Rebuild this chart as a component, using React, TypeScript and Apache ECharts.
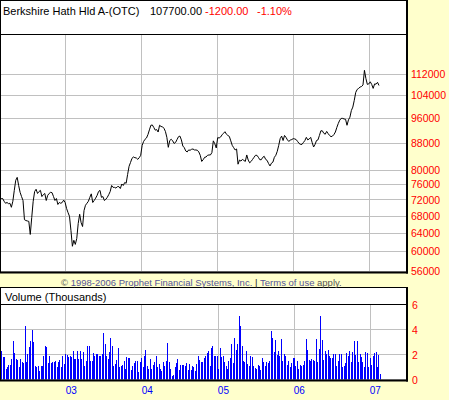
import { useEffect, useRef } from "react";
import * as echarts from "echarts";

// Weekly closes (USD) and weekly volume (thousands of shares), one entry per week
const FIRST_WEEK = Date.UTC(2002, 1, 25);
const WEEK_MS = 7 * 24 * 3600 * 1000;

const CLOSE = [
  72300, 72300, 71600, 71100, 71300, 71000, 71100, 70100, 71600, 74400,
  77100, 77900, 75700, 73900, 72800, 71800, 67100, 66900, 66800, 66700,
  63700, 67600, 71600, 74100, 74700, 73600, 74100, 74400, 72800, 73300,
  73600, 71800, 73100, 73600, 73900, 73800, 72800, 71800, 72300, 70800,
  71300, 71100, 71300, 71900, 71300, 69800, 68800, 67900, 64600, 61100,
  62400, 61500, 62800, 66200, 68400, 66400, 65500, 69300, 70600, 71100,
  71600, 72600, 73500, 71300, 71800, 72400, 73100, 74100, 74400, 72600,
  72800, 71800, 72100, 72600, 73300, 74100, 75700, 75200, 75200, 75000,
  75400, 75400, 74900, 76100, 75700, 76500, 76300, 78700, 81000, 82100,
  83300, 83700, 83500, 83400, 83000, 83500, 84200, 87200, 88400, 89100,
  89500, 90600, 92100, 93600, 93700, 92900, 92000, 92200, 91400, 93600,
  93200, 93100, 92600, 91600, 89700, 86600, 88700, 89100, 88600, 87800,
  88100, 89000, 89900, 90100, 88900, 87000, 86500, 85500, 85200, 85800,
  85700, 86000, 86100, 85800, 85800, 85700, 85200, 84200, 82400, 82900,
  83600, 83700, 84200, 84300, 84300, 85000, 88600, 87700, 86400, 89600,
  89500, 89800, 90500, 91000, 91500, 90700, 90300, 90000, 88600, 87200,
  86500, 85800, 86100, 81600, 82800, 82500, 83000, 82700, 82400, 84300,
  82800, 82000, 82400, 83000, 83600, 84200, 84200, 83600, 82900, 82900,
  83600, 83900, 83000, 82700, 81800, 81100, 81900, 82200, 83600, 84200,
  85400, 87200, 89300, 90100, 88700, 90300, 89700, 88900, 88400, 88900,
  89000, 89300, 89200, 89000, 88400, 87800, 87500, 87500, 88100, 88700,
  89700, 88900, 89200, 89700, 88100, 86700, 87500, 88700, 88900, 90300,
  91800, 91800, 91000, 90700, 91600, 90900, 90300, 89900, 90100, 90600,
  91400, 92900, 94200, 95300, 95900, 95900, 95700, 95600, 93600, 95400,
  96300, 98600, 99800, 102200, 105100, 106200, 106600, 107100, 107300, 107900,
  113600, 110400, 108100, 108300, 109100, 108100, 106600, 108300, 108200, 108900,
  107700,
];

const VOLUME_K = [
  2.3, 1.84, 1.8, 0.85, 1.0, 1.2, 1.2, 1.65, 3.1, 2.1,
  1.65, 1.6, 1.0, 1.65, 1.4, 1.3, 4.25, 1.4, 2.05, 2.6,
  3.05, 4.0, 3.0, 1.1, 1.0, 1.1, 0.7, 1.1, 1.1, 1.9,
  2.65, 2.6, 1.3, 1.9, 1.33, 1.4, 1.4, 1.5, 1.0, 1.4,
  1.6, 1.0, 1.9, 1.25, 2.05, 2.0, 1.8, 1.9, 1.8, 2.25,
  1.65, 1.65, 2.25, 1.65, 2.3, 1.65, 2.2, 1.1, 1.5, 2.7,
  2.65, 1.45, 1.45, 2.15, 1.9, 2.05, 2.05, 1.9, 1.85, 2.05,
  3.7, 2.85, 1.9, 1.65, 2.2, 3.3, 2.7, 1.05, 1.25, 1.6,
  2.5, 1.0, 1.05, 1.2, 1.5, 0.85, 1.8, 1.7, 1.7, 0.8,
  1.1, 1.3, 1.5, 1.45, 0.6, 1.4, 1.7, 1.0, 1.9, 2.4,
  1.1, 0.85, 1.65, 0.85, 1.2, 1.4, 1.85, 1.0, 1.25, 0.85,
  0.7, 1.4, 1.1, 1.5, 2.95, 1.4, 0.85, 0.3, 0.4, 1.0,
  1.35, 1.65, 0.8, 1.2, 1.15, 1.15, 1.1, 1.35, 0.8, 1.25,
  0.8, 1.05, 1.0, 0.7, 1.25, 1.9, 1.6, 1.4, 1.4, 1.7,
  1.9, 2.1, 2.3, 1.05, 2.5, 2.7, 1.85, 1.9, 1.9, 0.85,
  2.5, 1.8, 1.9, 1.4, 1.05, 0.85, 1.5, 1.75, 2.85, 1.3,
  3.3, 2.35, 2.85, 5.1, 4.25, 2.65, 1.5, 1.4, 2.3, 1.25,
  1.05, 1.9, 1.8, 1.05, 0.9, 0.85, 1.2, 1.05, 0.75, 1.75,
  1.4, 1.1, 1.4, 1.3, 1.5, 3.9, 3.3, 2.2, 3.15, 2.0,
  2.25, 1.85, 3.25, 1.45, 2.05, 1.9, 1.2, 1.45, 1.0, 1.3,
  1.75, 1.7, 1.1, 1.5, 0.85, 1.2, 1.1, 1.2, 1.5, 3.25,
  2.4, 1.6, 1.45, 1.65, 1.6, 1.45, 3.25, 1.4, 2.45, 5.05,
  3.15, 1.6, 2.25, 2.05, 2.35, 1.9, 1.75, 1.7, 2.05, 2.05,
  1.05, 1.45, 2.05, 2.05, 1.0, 1.05, 1.3, 2.1, 1.85, 2.3,
  1.4, 2.2, 3.1, 2.0, 3.1, 1.4, 2.05, 1.8, 1.4, 1.0,
  2.2, 2.15, 1.0, 1.7, 1.2, 1.9, 2.15, 2.2, 1.0, 2.0,
  0.45,
];

const PRICE_TICKS = [56000, 60000, 64000, 68000, 72000, 76000, 80000, 88000, 96000, 104000, 112000];
const YEAR_TICKS = [2003, 2004, 2005, 2006, 2007];

const QUOTE_NAME = "Berkshire Hath Hld A-(OTC)";
const QUOTE_LAST = "107700.00";
const QUOTE_CHANGE = "-1200.00";
const QUOTE_PCT = "-1.10%";

const AXIS_START = Date.UTC(2002, 1, 24);
const AXIS_END = Date.UTC(2007, 5, 29);

const FONT = "'Liberation Sans', Arial, sans-serif";
const GRID_COLOR = "#c0c0c0";

export default function App() {
  const ref = useRef<HTMLDivElement>(null);

  useEffect(() => {
    document.body.style.margin = "0";
    if (!ref.current) return;
    const chart = echarts.init(ref.current, undefined, { renderer: "svg" });

    const weeks = CLOSE.map((_, i) => FIRST_WEEK + i * WEEK_MS);
    const yearStarts = YEAR_TICKS.map((y) => Date.UTC(y, 0, 1));

    const line = (x1: number, y1: number, x2: number, y2: number, w = 1) => ({
      type: "line",
      silent: true,
      z: 50,
      shape: { x1, y1, x2, y2 },
      style: { stroke: "#000", lineWidth: w },
    });
    const text = (x: number, y: number, t: string, color: string, size: number) => ({
      type: "text",
      silent: true,
      z: 60,
      x,
      y,
      style: {
        text: t,
        fill: color,
        font: `${size}px ${FONT}`,
        verticalAlign: "middle",
        textVerticalAlign: "middle",
      },
    });

    // time runs along a plain numeric axis (ms timestamps), ticked at year starts
    const xCommon = {
      type: "value",
      min: AXIS_START,
      max: AXIS_END,
      axisLine: { show: false },
      splitLine: { show: true, lineStyle: { color: GRID_COLOR, width: 1 } },
    };

    chart.setOption({
      animation: false,
      backgroundColor: "#FFFFCC",
      textStyle: { fontFamily: FONT },
      grid: [
        { left: 1, right: 42, top: 34.5, height: 237 },
        { left: 1, right: 42, top: 304.5, height: 75 },
      ],
      xAxis: [
        {
          ...xCommon,
          gridIndex: 0,
          axisTick: { show: false, customValues: yearStarts },
          axisLabel: { show: false, customValues: yearStarts },
        },
        {
          ...xCommon,
          gridIndex: 1,
          axisTick: { show: false, customValues: yearStarts },
          axisLabel: {
            show: true,
            customValues: yearStarts,
            color: "#0000ff",
            fontSize: 10,
            margin: 6,
            align: "left",
            formatter: (v: number) => String(new Date(v).getUTCFullYear()).slice(2),
          },
        },
      ],
      yAxis: [
        {
          type: "log",
          gridIndex: 0,
          position: "right",
          min: 55900,
          max: 128900,
          axisLine: { show: false },
          axisTick: { show: false, customValues: PRICE_TICKS },
          axisLabel: {
            customValues: PRICE_TICKS,
            color: "#ff0000",
            fontSize: 10.5,
            margin: 5,
            formatter: (v: number) => String(Math.round(v)),
          },
          splitLine: { show: true, lineStyle: { color: GRID_COLOR, width: 1 } },
        },
        {
          type: "value",
          gridIndex: 1,
          position: "right",
          min: 0,
          max: 6,
          interval: 2,
          axisLine: { show: false },
          axisTick: { show: false },
          axisLabel: { color: "#ff0000", fontSize: 10.5, margin: 5 },
          splitLine: { show: true, lineStyle: { color: GRID_COLOR, width: 1 } },
        },
      ],
      series: [
        {
          type: "line",
          xAxisIndex: 0,
          yAxisIndex: 0,
          data: weeks.map((d, i) => [d, CLOSE[i]]),
          showSymbol: false,
          lineStyle: { color: "#000", width: 1 },
          z: 5,
        },
        {
          // one-pixel volume sticks, snapped to whole pixels so they stay solid
          type: "custom",
          xAxisIndex: 1,
          yAxisIndex: 1,
          data: weeks.map((d, i) => [d, VOLUME_K[i]]),
          encode: { x: 0, y: 1 },
          z: 5,
          renderItem: (_params: any, api: any) => {
            const top = api.coord([api.value(0), api.value(1)]);
            const base = api.coord([api.value(0), 0]);
            const x = Math.round(top[0]);
            const y = Math.round(top[1]);
            return {
              type: "rect",
              shape: { x, y, width: 1, height: base[1] - y },
              style: { fill: "#0000ff" },
            };
          },
        },
      ],
      graphic: [
        // price panel
        { type: "rect", silent: true, z: -10, shape: { x: 0, y: 0, width: 407, height: 272 }, style: { fill: "#fff" } },
        line(0, 0.5, 407, 0.5),
        line(0.5, 0, 0.5, 273),
        line(407, 0, 407, 273.5, 2),
        line(0, 272.5, 408, 272.5, 2),
        line(0, 34.5, 407, 34.5),
        // volume panel
        { type: "rect", silent: true, z: -10, shape: { x: 0, y: 287, width: 407, height: 93 }, style: { fill: "#fff" } },
        line(0, 287.5, 407, 287.5),
        line(0.5, 287, 0.5, 381),
        line(407, 287, 407, 381.5, 2),
        line(0, 380.5, 408, 380.5, 2),
        line(0, 304.5, 407, 304.5),
        // header texts
        text(3, 11, QUOTE_NAME, "#000", 11),
        text(150, 11, QUOTE_LAST, "#000", 11),
        text(205, 11, QUOTE_CHANGE, "#ff0000", 11),
        text(257, 11, QUOTE_PCT, "#ff0000", 11),
        text(5, 297, "Volume (Thousands)", "#000", 11),
        {
          type: "text",
          silent: true,
          z: 60,
          x: 61,
          y: 282,
          style: {
            text: "{g|©} {b|1998-2006 Prophet Financial Systems, Inc.} {k||} {b|Terms of use} {g|apply.}",
            font: `9.5px ${FONT}`,
            fill: "#444",
            verticalAlign: "middle",
            textVerticalAlign: "middle",
            rich: {
              g: { fill: "#555", fontSize: 9.5, fontFamily: FONT },
              b: { fill: "#55559a", fontSize: 9.5, fontFamily: FONT },
              k: { fill: "#222", fontSize: 9.5, fontFamily: FONT },
            },
          },
        },
      ],
    });

    return () => chart.dispose();
  }, []);

  return <div ref={ref} style={{ width: 449, height: 400 }} />;
}
